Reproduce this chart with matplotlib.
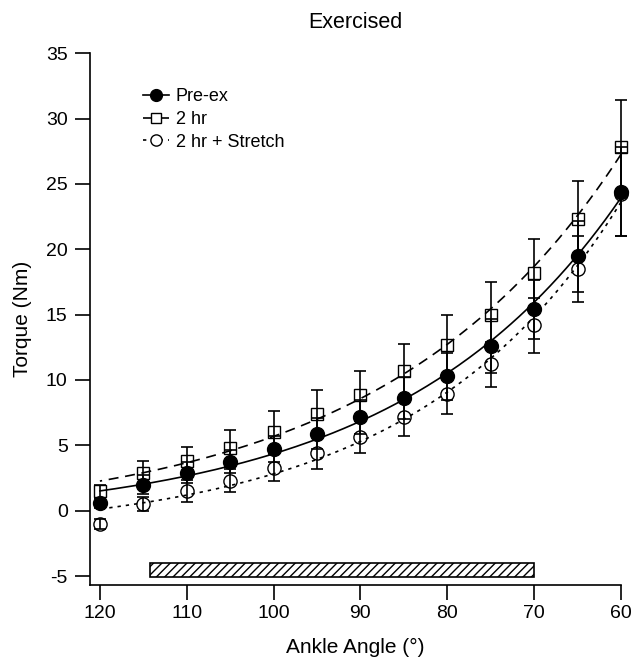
import numpy as np
import matplotlib.pyplot as plt

plt.rcParams['font.family'] = ['Liberation Sans', 'DejaVu Sans']
plt.rcParams['axes.unicode_minus'] = False

# Ankle angle (deg) and torque (Nm), mean +/- SEM
angle = np.array([120, 115, 110, 105, 100, 95, 90, 85, 80, 75, 70, 65, 60])
pre_ex = np.array([0.6, 2.0, 2.9, 3.75, 4.7, 5.9, 7.15, 8.6, 10.3, 12.6, 15.4, 19.45, 24.4])
pre_ex_err = np.array([0.4, 0.7, 0.8, 0.9, 1.0, 1.2, 1.3, 1.6, 1.8, 2.05, 2.25, 2.75, 3.4])
two_hr = np.array([1.5, 2.9, 3.8, 4.8, 6.0, 7.4, 8.85, 10.65, 12.65, 15.0, 18.2, 22.3, 27.8])
two_hr_err = np.array([0.5, 0.9, 1.1, 1.4, 1.6, 1.8, 1.85, 2.1, 2.35, 2.5, 2.6, 2.95, 3.6])
stretch = np.array([-1.0, 0.5, 1.5, 2.3, 3.3, 4.4, 5.65, 7.15, 8.9, 11.2, 14.2, 18.5, 24.2])
stretch_err = np.array([0.4, 0.55, 0.85, 0.9, 1.05, 1.2, 1.25, 1.4, 1.5, 1.7, 2.1, 2.5, 3.2])

# hatched bar below the data (angle range)
bar_start, bar_end = 114.2, 70
bar_low, bar_high = -5.1, -4.0


def exp_fit(x, y):
    # y = a + b * exp(k * (120 - x)), grid over k, least squares for a, b
    best = None
    for k in np.linspace(0.005, 0.1, 400):
        A = np.column_stack([np.ones_like(x, dtype=float), np.exp(k * (120 - x))])
        coef, *_ = np.linalg.lstsq(A, y, rcond=None)
        r = np.sum((A @ coef - y) ** 2)
        if best is None or r < best[0]:
            best = (r, k, coef)
    _, k, coef = best
    xs = np.linspace(x.min(), x.max(), 200)
    return xs, coef[0] + coef[1] * np.exp(k * (120 - xs))


fig = plt.figure(figsize=(6.33, 6.65), dpi=100)
ax = fig.add_axes([0.142, 0.12, 0.839, 0.80])

series = [
    (pre_ex, pre_ex_err, 'o', 'black', '-', 'Pre-ex', 10),
    (two_hr, two_hr_err, 's', 'white', (0, (6, 4)), '2 hr', 9),
    (stretch, stretch_err, 'o', 'white', (0, (2, 3)), '2 hr + Stretch', 9.5),
]

handles = []
for y, e, m, fc, ls, lab, ms in series:
    xs, ys = exp_fit(angle, y)
    ax.plot(xs, ys, color='black', linestyle=ls, linewidth=1.2, zorder=2)
    eb = ax.errorbar(angle, y, yerr=e, fmt='none', ecolor='black', elinewidth=1.2,
                     capsize=4.5, capthick=1.2, zorder=3)
    for art in eb.get_children():
        art.set_clip_on(False)
    ax.plot(angle, y, linestyle='none', marker=m, markersize=ms,
            markerfacecolor='none' if fc == 'white' else fc,
            markeredgecolor='black', markeredgewidth=1.0, zorder=4, clip_on=False)
    h, = ax.plot([], [], color='black', linestyle=ls, linewidth=1.2, marker=m,
                 markersize=ms * 0.85, markerfacecolor=fc, markeredgecolor='black',
                 markeredgewidth=1.0)
    handles.append(h)

ax.barh((bar_low + bar_high) / 2, bar_end - bar_start, left=bar_start,
        height=bar_high - bar_low, color='white', edgecolor='black',
        hatch='////', linewidth=1.2, zorder=2)

ax.set_xlim(121.15, 60)
ax.set_ylim(-5.7, 35)
ax.set_xticks(np.arange(120, 59, -10))
ax.set_yticks(np.arange(-5, 36, 5))
ax.spines['top'].set_visible(False)
ax.spines['right'].set_visible(False)
for s in ('left', 'bottom'):
    ax.spines[s].set_linewidth(1.2)
ax.tick_params(direction='out', length=11, width=1.2, labelsize=14, pad=5)
ax.tick_params(axis='x', pad=3)

ax.set_xlabel('Ankle Angle (°)', fontsize=15, labelpad=12)
ax.set_ylabel('Torque (Nm)', fontsize=15, labelpad=10)
ax.set_title('Exercised', fontsize=15.5, pad=18)

ax.legend(handles, ['Pre-ex', '2 hr', '2 hr + Stretch'], loc='upper left',
          bbox_to_anchor=(0.07, 0.965), frameon=False, fontsize=13,
          handlelength=1.4, handletextpad=0.4, labelspacing=0.32)

fig.savefig('out.png', dpi=100)
